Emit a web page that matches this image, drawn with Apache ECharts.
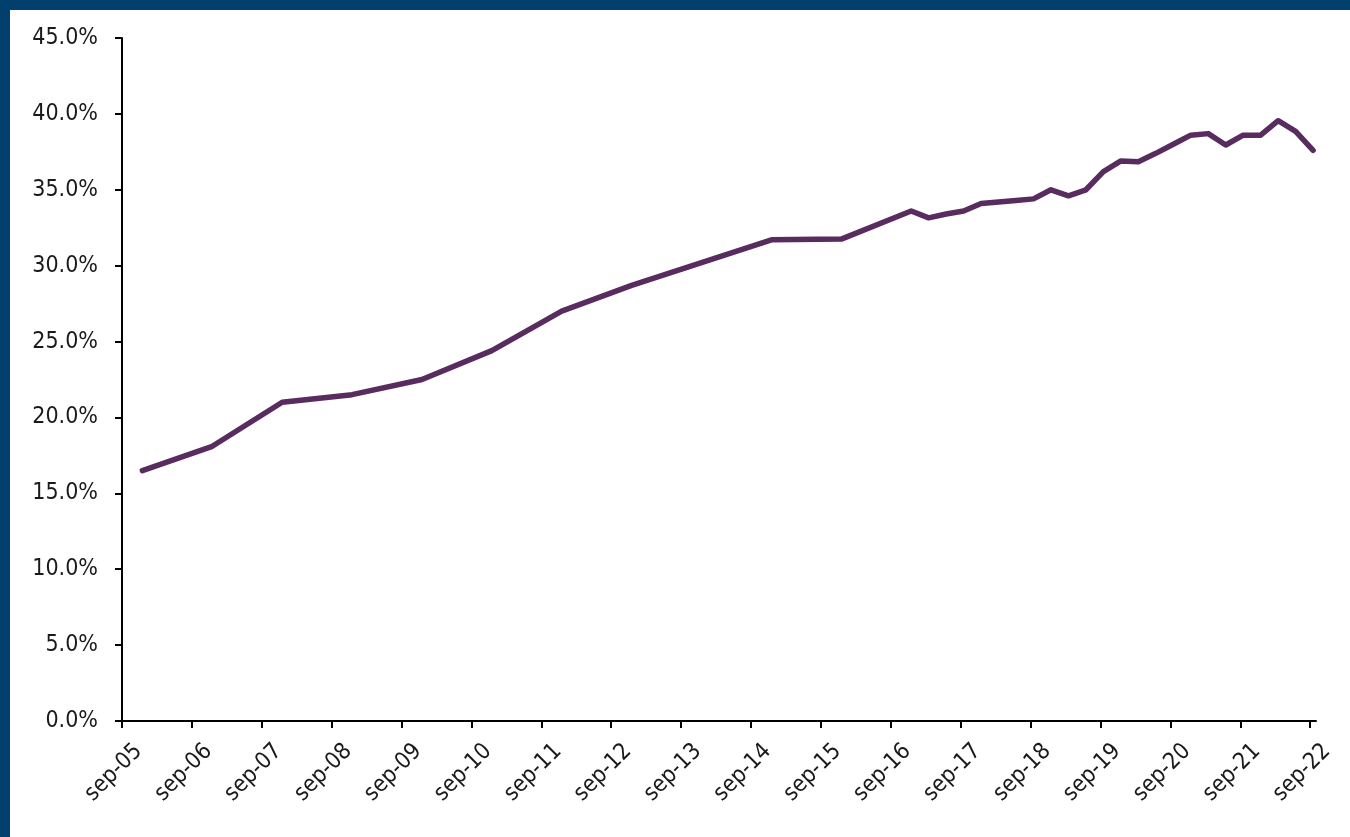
<!DOCTYPE html>
<html><head><meta charset="utf-8">
<script src="https://cdn.jsdelivr.net/npm/echarts@6/dist/echarts.min.js"></script>
<style>
html,body{margin:0;padding:0;background:#fff;}
#frame{position:absolute;left:0;top:0;width:1350px;height:837px;box-sizing:border-box;border-top:10px solid #003F6E;border-left:10px solid #003F6E;background:#fff;}
#chart{width:1340px;height:827px;}
</style></head><body>
<div id="frame"><div id="chart"></div></div>
<script>
const startMonth = '2005-09';
const endMonth = '2022-10';
const tickLabels = ['sep-05','sep-06','sep-07','sep-08','sep-09','sep-10','sep-11','sep-12','sep-13','sep-14','sep-15','sep-16','sep-17','sep-18','sep-19','sep-20','sep-21','sep-22'];
const yTicks = [0,5,10,15,20,25,30,35,40,45];
const dates = ['2005-12','2006-12','2007-12','2008-12','2009-12','2010-12','2011-12','2012-12','2013-12','2014-12','2015-12','2016-12',
  '2017-03','2017-06','2017-09','2017-12','2018-03','2018-06','2018-09','2018-12','2019-03','2019-06','2019-09','2019-12',
  '2020-03','2020-06','2020-09','2020-12','2021-03','2021-06','2021-09','2021-12','2022-03','2022-06','2022-09'];
const shares = [16.5,18.1,21.0,21.5,22.5,24.4,27.0,28.7,30.2,31.7,31.75,33.6,
  33.15,33.4,33.6,34.1,34.2,34.3,34.4,35.0,34.6,35.0,36.2,36.9,
  36.85,37.4,38.0,38.6,38.7,37.95,38.6,38.6,39.55,38.85,37.6];

// month slot index on a monthly date axis (points sit in the middle of their month slot)
function monthIndex(s){
  const [y,m]=s.split('-').map(Number);
  const [y0,m0]=startMonth.split('-').map(Number);
  return (y-y0)*12+(m-m0);
}
const seriesData = dates.map((d,i)=>[monthIndex(d)+0.5, shares[i]]);
const tickValues = tickLabels.map((_,i)=>i*12);
const FONT = "'DejaVu Sans Condensed','DejaVu Sans',sans-serif";

const chart = echarts.init(document.getElementById('chart'));
chart.setOption({
  backgroundColor:'#ffffff',
  animation:false,
  grid:{left:112,right:34,top:28,bottom:116,containLabel:false,outerBoundsMode:'none'},
  xAxis:{
    type:'value', min:0, max:monthIndex(endMonth),
    splitLine:{show:false},
    axisLine:{show:true,onZero:false,lineStyle:{color:'#000',width:2}},
    axisTick:{show:true,inside:false,length:7,lineStyle:{color:'#000',width:2},customValues:tickValues},
    axisLabel:{rotate:45,margin:10,fontSize:23,fontFamily:FONT,color:'#1a1a1a',verticalAlign:'top',padding:[12,0,0,0],customValues:tickValues,
      formatter:(v)=>tickLabels[Math.round(v/12)]||''}
  },
  yAxis:{
    type:'value', min:yTicks[0], max:yTicks[yTicks.length-1], interval:5,
    splitLine:{show:false},
    axisLine:{show:true,lineStyle:{color:'#000',width:2}},
    axisTick:{show:true,inside:false,length:7,lineStyle:{color:'#000',width:2}},
    axisLabel:{margin:24,fontSize:23,fontFamily:FONT,color:'#1a1a1a',formatter:(v)=>v.toFixed(1)+'%'}
  },
  series:[{
    type:'line', data:seriesData, symbol:'none', smooth:false,
    lineStyle:{color:'#582C5E',width:5.5,cap:'round',join:'round'}
  }]
});
</script>
</body></html>
